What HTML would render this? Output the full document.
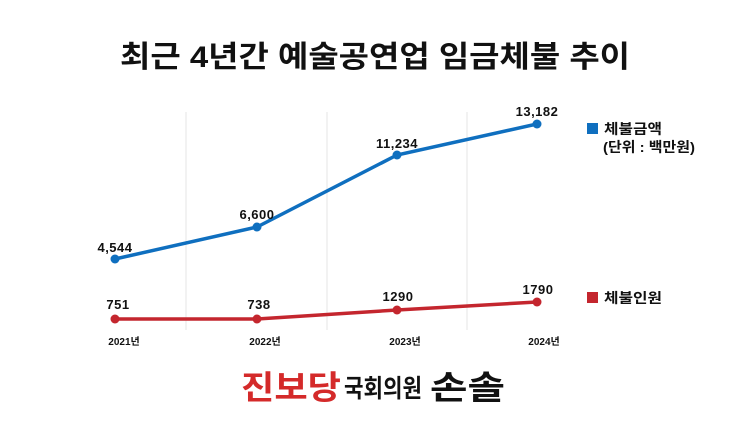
<!DOCTYPE html>
<html><head><meta charset="utf-8"><style>
html,body{margin:0;padding:0;background:#fff;}
svg{display:block;}
text{font-family:"Liberation Sans","Noto Sans CJK KR",sans-serif;font-weight:bold;}
</style></head><body>
<svg width="750" height="421" viewBox="0 0 750 421">
<rect width="750" height="421" fill="#fff"/>
<text x="120" y="67" font-size="30" fill="#111" textLength="510" lengthAdjust="spacingAndGlyphs">최근 4년간 예술공연업 임금체불 추이</text>
<g stroke="#e6e6e6" stroke-width="1">
<line x1="186" y1="112" x2="186" y2="330"/>
<line x1="327" y1="112" x2="327" y2="330"/>
<line x1="467" y1="112" x2="467" y2="330"/>
</g>
<polyline points="115,259 257,227 397,155 537,124" fill="none" stroke="#0f6fbf" stroke-width="3.5"/>
<g fill="#0f6fbf"><circle cx="115" cy="259" r="4.5"/><circle cx="257" cy="227" r="4.5"/><circle cx="397" cy="155" r="4.5"/><circle cx="537" cy="124" r="4.5"/></g>
<polyline points="115,319 257,319 397,310 537,302" fill="none" stroke="#c4262e" stroke-width="3.5"/>
<g fill="#c4262e"><circle cx="115" cy="319" r="4.5"/><circle cx="257" cy="319" r="4.5"/><circle cx="397" cy="310" r="4.5"/><circle cx="537" cy="302" r="4.5"/></g>
<g font-size="13" fill="#111" text-anchor="middle" letter-spacing="0.5">
<text x="115" y="252">4,544</text>
<text x="257" y="219">6,600</text>
<text x="397" y="148">11,234</text>
<text x="537" y="116">13,182</text>
<text x="118" y="309">751</text>
<text x="259" y="309">738</text>
<text x="398" y="301">1290</text>
<text x="538" y="294">1790</text>
</g>
<g font-size="10" fill="#111" text-anchor="middle">
<text x="124" y="345">2021년</text>
<text x="265" y="345">2022년</text>
<text x="405" y="345">2023년</text>
<text x="544" y="345">2024년</text>
</g>
<rect x="587" y="123" width="11" height="11" fill="#0f6fbf"/>
<text x="604" y="134" font-size="14" fill="#111" textLength="58" lengthAdjust="spacingAndGlyphs">체불금액</text>
<text x="603" y="152" font-size="14" fill="#111" textLength="92" lengthAdjust="spacingAndGlyphs">(단위 : 백만원)</text>
<rect x="587" y="292" width="11" height="11" fill="#c4262e"/>
<text x="604" y="303" font-size="14" fill="#111" textLength="58" lengthAdjust="spacingAndGlyphs">체불인원</text>
<text x="241" y="399" font-size="33" fill="#d42a2a" font-weight="900" textLength="100" lengthAdjust="spacingAndGlyphs">진보당</text>
<text x="344" y="397" font-size="25" fill="#111" font-weight="normal" textLength="78" lengthAdjust="spacingAndGlyphs">국회의원</text>
<text x="430" y="399" font-size="33" fill="#111" font-weight="900" textLength="75" lengthAdjust="spacingAndGlyphs">손솔</text>
</svg>
</body></html>
